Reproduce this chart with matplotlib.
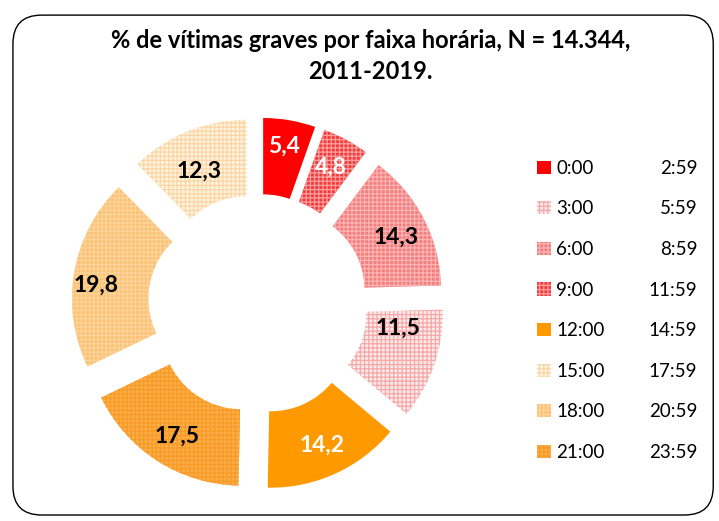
import matplotlib
matplotlib.use("Agg")
from matplotlib import pyplot as plt
from matplotlib.patches import FancyBboxPatch, Patch
import numpy as np

plt.rcParams['font.family'] = ['Lato', 'DejaVu Sans']
plt.rcParams['hatch.linewidth'] = 0.9

# wedges, clockwise from 12 o'clock
values = [5.4, 4.8, 14.3, 11.5, 14.2, 17.5, 19.8, 12.3]
value_labels = ["5,4", "4,8", "14,3", "11,5", "14,2", "17,5", "19,8", "12,3"]
wedge_face = ['#FF0000', '#F53A3A', '#F47E7E', '#FDEAEA', '#FF9900', '#FAAE48', '#FBC274', '#FEF3E2']
wedge_hatch = ['', '++++', '++++', '++++', '', '++++', '++++', '++++']
wedge_hcol = ['#FF0000', '#F9A0A0', '#FAB4B4', '#F4A8A8', '#FF9900', '#F99A26', '#FCD49C', '#FBD6A2']
label_col = ['white', 'white', 'black', 'black', 'white', 'black', 'black', 'black']
label_nudge = [(0, 0.03), (0, 0), (0, -0.03), (-0.04, 0.17), (0, 0), (0.02, -0.01), (-0.06, -0.05), (0, -0.07)]

# legend entries
leg_start = ["0:00", "3:00", "6:00", "9:00", "12:00", "15:00", "18:00", "21:00"]
leg_end = ["2:59", "5:59", "8:59", "11:59", "14:59", "17:59", "20:59", "23:59"]
leg_face = ['#FF0000', '#FDEAEA', '#F47E7E', '#F53A3A', '#FF9900', '#FEF3E2', '#FBC274', '#FAAE48']
leg_hatch = ['', '++++', '++++', '++++', '', '++++', '++++', '++++']
leg_hcol = ['#FF0000', '#F4A8A8', '#FAB4B4', '#F9A0A0', '#FF9900', '#FBD6A2', '#FCD49C', '#F99A26']

fig = plt.figure(figsize=(7.19, 5.21), dpi=100)

frame = FancyBboxPatch((0.018, 0.0115), 0.974, 0.9595, boxstyle="round,pad=0,rounding_size=0.04",
                       transform=fig.transFigure, fill=False, edgecolor='black', lw=1.0,
                       mutation_aspect=719/521)
fig.patches.append(frame)

fig.text(0.515, 0.923, "% de vítimas graves por faixa horária, N = 14.344,",
         ha='center', va='center', fontsize=17, fontweight='bold')
fig.text(0.515, 0.862, "2011-2019.", ha='center', va='center', fontsize=17, fontweight='bold')

ax = fig.add_axes([0.3588 - 0.2710, 0.4165 - 0.3740, 0.5420, 0.7480])
wedges, _ = ax.pie(values, startangle=90, counterclock=False, explode=[0.196] * len(values),
                   colors=wedge_face, radius=1.0,
                   wedgeprops=dict(width=0.49, linewidth=0))
for w, h, hc in zip(wedges, wedge_hatch, wedge_hcol):
    w.set_hatch(h)
    w.set_edgecolor(hc)
    w.set_linewidth(0)

for w, lab, c, (dx, dy) in zip(wedges, value_labels, label_col, label_nudge):
    ang = np.deg2rad((w.theta1 + w.theta2) / 2)
    cx, cy = w.center
    r = 0.80
    ax.text(cx + r * np.cos(ang) + dx, cy + r * np.sin(ang) + dy, lab, ha='center', va='center',
            fontsize=16.5, fontweight='bold', color=c)
ax.set_xlim(-1.25, 1.25)
ax.set_ylim(-1.25, 1.25)
ax.set_aspect('equal')
ax.axis('off')

handles = [Patch(facecolor=f, hatch=h, edgecolor=hc, linewidth=0)
           for f, h, hc in zip(leg_face, leg_hatch, leg_hcol)]
leg = fig.legend(handles, leg_start, loc='upper left', bbox_to_anchor=(0.737, 0.708),
                 frameon=False, fontsize=13.5, handlelength=0.7, handleheight=0.7,
                 handletextpad=0.3, labelspacing=1.26, borderaxespad=0)

fig.canvas.draw()
inv = fig.transFigure.inverted()
for t, end in zip(leg.get_texts(), leg_end):
    bb = t.get_window_extent()
    yc = inv.transform(((bb.x0 + bb.x1) / 2, (bb.y0 + bb.y1) / 2))[1]
    fig.text(0.97, yc, end, ha='right', va='center', fontsize=13.5)

fig.savefig("out.png", dpi=100)
